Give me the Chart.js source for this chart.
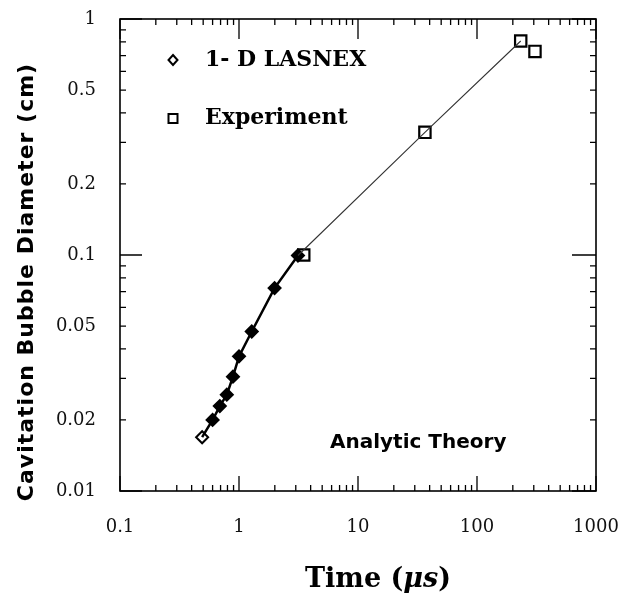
<!DOCTYPE html>
<html>
<head>
<meta charset="utf-8">
<style>
  html, body { margin: 0; padding: 0; background: #fff; }
  canvas { display: block; }
</style>
<script src="https://cdn.jsdelivr.net/npm/chart.js@4.4.1/dist/chart.umd.min.js"></script>
</head>
<body>
<canvas id="bubbleChart" width="627" height="604"></canvas>
<script>
// Values
const lasnexTime = [0.49, 0.60, 0.69, 0.79, 0.89, 1.0, 1.28, 1.99, 3.13];
const lasnexDiameter = [0.0169, 0.020, 0.0229, 0.0256, 0.0305, 0.0372, 0.0474, 0.0724, 0.0995];

const experimentTime = [3.5, 36.5, 233, 307];
const experimentDiameter = [0.1, 0.331, 0.807, 0.729];

const theoryTime = [0.49, 0.60, 0.69, 0.79, 0.89, 1.0, 1.28, 1.99, 3.13, 36.5, 233];
const theoryDiameter = [0.0169, 0.020, 0.0229, 0.0256, 0.0305, 0.0372, 0.0474, 0.0724, 0.0995, 0.331, 0.807];

const xTickValues = [0.1, 1, 10, 100, 1000];
const xTickLabels = ['0.1', '1', '10', '100', '1000'];
const yTickValues = [0.01, 0.02, 0.05, 0.1, 0.2, 0.5, 1];
const yTickLabels = ['0.01', '0.02', '0.05', '0.1', '0.2', '0.5', '1'];

function toPoints(xs, ys) {
    return xs.map((v, i) => ({ x: v, y: ys[i] }));
}

// all 1..9 positions of each decade, used for the tick marks
function decadeSteps(min, max) {
    const out = [];
    for (let d = Math.round(Math.log10(min)); d < Math.round(Math.log10(max)); d++) {
        for (let m = 1; m <= 9; m++) out.push({ v: m * Math.pow(10, d), major: m === 1 });
    }
    out.push({ v: max, major: true });
    return out;
}

// frame, inward ticks on all four sides, titles and the in-plot labels
const framePlugin = {
    id: 'frame',
    beforeDatasetsDraw(chart) {
        const { ctx, chartArea: a, scales: { x, y } } = chart;
        ctx.save();
        ctx.strokeStyle = '#000';
        ctx.lineWidth = 1.6;
        ctx.strokeRect(a.left, a.top, a.right - a.left, a.bottom - a.top);

        ctx.lineWidth = 1.3;
        ctx.beginPath();
        decadeSteps(0.1, 1000).forEach(t => {
            const px = x.getPixelForValue(t.v);
            const bottomLen = t.major ? 15 : 6;
            const topLen = t.major ? 20 : 6;
            ctx.moveTo(px, a.bottom); ctx.lineTo(px, a.bottom - bottomLen);
            ctx.moveTo(px, a.top); ctx.lineTo(px, a.top + topLen);
        });
        decadeSteps(0.01, 1).forEach(t => {
            const py = y.getPixelForValue(t.v);
            const leftLen = t.major ? 22 : 6;
            const rightLen = t.major ? 24 : 6;
            ctx.moveTo(a.left, py); ctx.lineTo(a.left + leftLen, py);
            ctx.moveTo(a.right, py); ctx.lineTo(a.right - rightLen, py);
        });
        ctx.stroke();
        ctx.restore();
    },
    afterDraw(chart) {
        const { ctx, chartArea: a } = chart;
        ctx.save();
        ctx.fillStyle = '#000';
        ctx.strokeStyle = '#000';

        // x title with italic unit
        ctx.textBaseline = 'middle';
        const partA = 'Time (', partB = '\u03bcs', partC = ')';
        const upright = 'bold 27px "DejaVu Serif"';
        const italic = 'italic bold 27px "DejaVu Serif"';
        ctx.font = upright;
        const wA = ctx.measureText(partA).width, wC = ctx.measureText(partC).width;
        ctx.font = italic;
        const wB = ctx.measureText(partB).width;
        let tx = 378 - (wA + wB + wC) / 2;
        const ty = 580;
        ctx.textAlign = 'left';
        ctx.font = upright; ctx.fillText(partA, tx, ty); tx += wA;
        ctx.font = italic; ctx.fillText(partB, tx, ty); tx += wB;
        ctx.font = upright; ctx.fillText(partC, tx, ty);

        // y title
        ctx.save();
        ctx.translate(27, 282);
        ctx.rotate(-Math.PI / 2);
        ctx.font = 'bold 22px "DejaVu Sans"';
        ctx.letterSpacing = '1px';
        ctx.textAlign = 'center';
        ctx.fillText('Cavitation Bubble Diameter (cm)', 0, 0);
        ctx.restore();

        // legend
        const lx = a.left + 53;
        ctx.lineWidth = 2;
        ctx.beginPath();
        ctx.moveTo(lx, a.top + 36); ctx.lineTo(lx + 4.5, a.top + 41);
        ctx.lineTo(lx, a.top + 46); ctx.lineTo(lx - 4.5, a.top + 41);
        ctx.closePath();
        ctx.stroke();
        ctx.strokeRect(lx - 4.5, a.top + 95, 9, 9);

        ctx.font = 'bold 22px "DejaVu Serif"';
        ctx.textAlign = 'left';
        ctx.fillText('1- D LASNEX', a.left + 85, a.top + 41);
        ctx.fillText('Experiment', a.left + 85, a.top + 99);

        ctx.font = 'bold 20px "DejaVu Sans"';
        ctx.fillText('Analytic Theory', a.left + 210, a.bottom - 48);
        ctx.restore();
    }
};

const ctx = document.getElementById('bubbleChart').getContext('2d');
const chart = new Chart(ctx, {
    type: 'scatter',
    data: {
        datasets: [
            {
                label: 'Analytic Theory',
                data: toPoints(theoryTime, theoryDiameter),
                showLine: true,
                borderColor: '#000',
                borderWidth: 2.5,
                pointRadius: 0,
                segment: {
                    borderWidth: c => c.p0DataIndex >= 8 ? 1.1 : 2.5,
                    borderColor: c => c.p0DataIndex >= 8 ? '#333' : '#000'
                }
            },
            {
                label: '1- D LASNEX',
                data: toPoints(lasnexTime, lasnexDiameter),
                pointStyle: 'rectRot',
                pointRadius: 6,
                borderWidth: 2,
                borderColor: '#000',
                backgroundColor: lasnexTime.map((_, i) => i === 0 ? '#fff' : '#000')
            },
            {
                label: 'Experiment',
                data: toPoints(experimentTime, experimentDiameter),
                pointStyle: 'rect',
                pointRadius: 8,
                borderWidth: 2.2,
                borderColor: '#000',
                backgroundColor: '#fff'
            }
        ]
    },
    options: {
        responsive: false,
        animation: false,
        layout: { padding: { left: 0, right: 31, top: 19, bottom: 0 } },
        plugins: {
            legend: { display: false },
            tooltip: { enabled: false }
        },
        scales: {
            x: {
                type: 'logarithmic',
                min: 0.1,
                max: 1000,
                afterFit: s => { s.height = 113; s.paddingLeft = 0; s.paddingRight = 0; },
                afterBuildTicks: s => { s.ticks = xTickValues.map(v => ({ value: v })); },
                ticks: {
                    autoSkip: false,
                    maxRotation: 0,
                    padding: 18,
                    color: '#111',
                    font: { family: 'DejaVu Serif', size: 18 },
                    callback: (v, i) => xTickLabels[i]
                },
                grid: { display: false },
                border: { display: false }
            },
            y: {
                type: 'logarithmic',
                min: 0.01,
                max: 1,
                afterFit: s => { s.width = 120; s.paddingTop = 0; s.paddingBottom = 0; },
                afterBuildTicks: s => { s.ticks = yTickValues.map(v => ({ value: v })); },
                ticks: {
                    autoSkip: false,
                    padding: 16,
                    color: '#111',
                    font: { family: 'DejaVu Serif', size: 18 },
                    callback: (v, i) => yTickLabels[i]
                },
                grid: { display: false },
                border: { display: false }
            }
        }
    },
    plugins: [framePlugin]
});
</script>
</body>
</html>
